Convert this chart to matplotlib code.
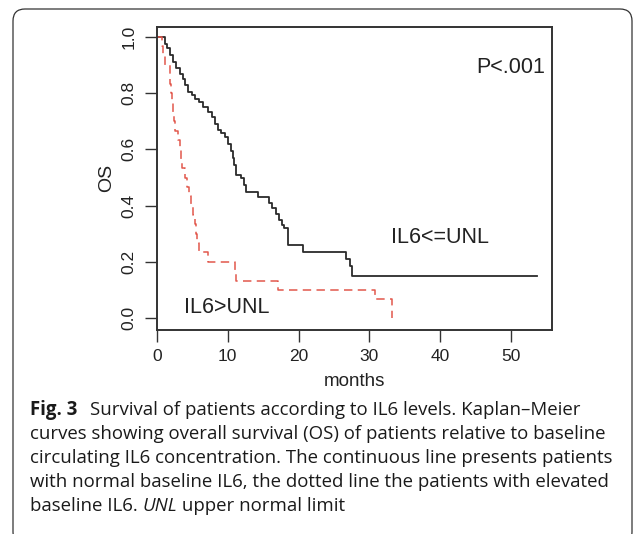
import matplotlib
matplotlib.use("Agg")
import matplotlib.pyplot as plt
from matplotlib.patches import FancyBboxPatch

# Kaplan-Meier steps (months, survival after step)
normal_t = [0, 1.1, 1.4, 1.8, 2.3, 2.7, 3.2, 3.7, 3.9, 4.4, 4.9, 5.3, 6.0, 6.5,
            7.2, 7.7, 8.2, 8.6, 9.1, 9.6, 10.0, 10.5, 10.7, 10.9, 11.2, 11.9,
            12.3, 12.6, 14.2, 15.8, 16.3, 16.8, 17.3, 17.6, 18.0, 18.5, 20.6,
            26.7, 27.2, 27.5, 53.7]
normal_s = [1.0, 0.975, 0.96, 0.935, 0.91, 0.89, 0.87, 0.85, 0.83, 0.805, 0.793,
            0.781, 0.769, 0.75, 0.733, 0.715, 0.69, 0.668, 0.66, 0.645, 0.62,
            0.595, 0.57, 0.545, 0.51, 0.497, 0.475, 0.45, 0.432, 0.41, 0.39,
            0.37, 0.35, 0.33, 0.32, 0.26, 0.236, 0.21, 0.185, 0.15, 0.15]

high_t = [0, 0.7, 0.9, 1.2, 1.8, 1.9, 2.0, 2.1, 2.2, 2.4, 2.5, 2.9, 3.2, 3.4,
          3.5, 4.0, 4.2, 4.5, 4.8, 5.1, 5.3, 5.5, 5.7, 5.9, 7.2, 11.0, 11.2,
          17.1, 30.8, 33.15]
high_s = [1.0, 0.967, 0.933, 0.9, 0.867, 0.833, 0.8, 0.767, 0.733, 0.7, 0.667,
          0.633, 0.6, 0.567, 0.533, 0.5, 0.467, 0.433, 0.4, 0.367, 0.333, 0.3,
          0.267, 0.233, 0.2, 0.167, 0.133, 0.1, 0.067, 0.0]

xticks = [0, 10, 20, 30, 40, 50]
yticks = [0.0, 0.2, 0.4, 0.6, 0.8, 1.0]
ytick_labels = ["0.0", "0.2", "0.4", "0.6", "0.8", "1.0"]

caption_lines = [
    "curves showing overall survival (OS) of patients relative to baseline",
    "circulating IL6 concentration. The continuous line presents patients",
    "with normal baseline IL6, the dotted line the patients with elevated",
]

W, H = 634, 534
fig = plt.figure(figsize=(W / 100, H / 100), dpi=100)
plt.rcParams["font.family"] = ["Liberation Sans", "DejaVu Sans"]

# rounded frame around the whole figure panel
box = FancyBboxPatch((0.13, -0.10), 6.19, 5.35,
                     boxstyle="round,pad=0,rounding_size=0.12",
                     transform=fig.dpi_scale_trans, fill=False,
                     edgecolor="#333333", linewidth=0.9, clip_on=False)
fig.patches.append(box)

ax = fig.add_axes([157 / W, 1 - 330 / H, (552 - 157) / W, (330 - 27) / H])
ax.step(normal_t, normal_s, where="post", color="#2b2b2b", linewidth=1.3)
ax.step(high_t, high_s, where="post", color="#e2574c", linewidth=1.1,
        dashes=(5.5, 3.5))

ax.set_xlim(0, 55.8)
ax.set_ylim(-0.043, 1.036)
ax.set_xticks(xticks)
ax.set_yticks(yticks)
ax.set_yticklabels(ytick_labels, rotation=90, va="center")
ax.tick_params(direction="out", length=8.5, width=1.0, color="#333333",
               labelsize=12.5, labelcolor="#222222")
ax.tick_params(axis="x", pad=5.5)
ax.tick_params(axis="y", pad=6)
for sp in ax.spines.values():
    sp.set_linewidth(1.4)
    sp.set_color("#333333")

ax.text(54.8, 0.89, "P<.001", ha="right", va="center", fontsize=15.5, color="#222222")
ax.text(40.0, 0.285, "IL6<=UNL", ha="center", va="center", fontsize=15.5, color="#222222")
ax.text(9.9, 0.037, "IL6>UNL", ha="center", va="center", fontsize=15.5, color="#222222")

fig.text(107 / W, 1 - 178 / H, "OS", rotation=90, ha="center", va="center",
         fontsize=14, color="#222222")
fig.text(354.5 / W, 1 - 381 / H, "months", ha="center", va="center",
         fontsize=13.5, color="#222222")

# caption
cap_font = ["Open Sans", "DejaVu Sans"]
cap_size = 13.4
fig.canvas.draw()
r = fig.canvas.get_renderer()
t0 = fig.text(30 / W, 1 - 415 / H, "Fig. 3", fontweight="bold", family=cap_font,
              fontsize=cap_size, color="#1a1a1a")
x = (t0.get_window_extent(r).x1 + 13) / W
fig.text(x, 1 - 415 / H, "Survival of patients according to IL6 levels. Kaplan\u2013Meier",
         family=cap_font, fontsize=cap_size, color="#1a1a1a")
for i, line in enumerate(caption_lines):
    fig.text(30 / W, 1 - (439 + 24 * i) / H, line, family=cap_font,
             fontsize=cap_size, color="#1a1a1a")

# last line has an italic abbreviation in it
y5 = 1 - 511 / H
t1 = fig.text(30 / W, y5, "baseline IL6. ", family=cap_font, fontsize=cap_size, color="#1a1a1a")
x = t1.get_window_extent(r).x1 / W
t2 = fig.text(x, y5, "UNL", family=cap_font, fontsize=cap_size, style="italic", color="#1a1a1a")
x = t2.get_window_extent(r).x1 / W
fig.text(x, y5, " upper normal limit", family=cap_font, fontsize=cap_size, color="#1a1a1a")

fig.savefig("out.png", dpi=100)
